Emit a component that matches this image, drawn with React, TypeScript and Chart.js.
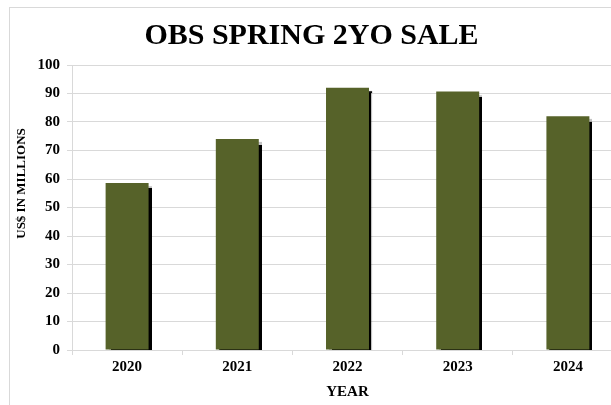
import React, { useEffect, useRef } from "react";
import { Chart, registerables } from "chart.js";

Chart.register(...registerables);

const years = ["2020", "2021", "2022", "2023", "2024"];
const salesMillions = [58.6, 74.0, 92.0, 90.7, 82.0];
const yTicks = [0, 10, 20, 30, 40, 50, 60, 70, 80, 90, 100];
const chartTitle = "OBS SPRING 2YO SALE";
const xTitle = "YEAR";
const yTitle = "US$ IN MILLIONS";

const FONT = "'Liberation Serif', 'Times New Roman', serif";
const GRID = "#d9d9d9";
const BAR = "#566229";

const shadowPlugin = {
  id: "barShadow",
  beforeDatasetsDraw(chart: any) {
    const ctx = chart.ctx;
    ctx.save();
    ctx.shadowColor = "rgba(0,0,0,1)";
    ctx.shadowOffsetX = 3;
    ctx.shadowOffsetY = 3;
    ctx.shadowBlur = 0.8;
  },
  afterDatasetsDraw(chart: any) {
    chart.ctx.restore();
  },
};

const yTitlePlugin = {
  id: "yTitleDraw",
  afterDraw(chart: any) {
    const ctx = chart.ctx;
    const area = chart.chartArea;
    ctx.save();
    ctx.translate(22, (area.top + area.bottom) / 2 - 24);
    ctx.rotate(-Math.PI / 2);
    ctx.textAlign = "center";
    ctx.textBaseline = "middle";
    ctx.fillStyle = "#000";
    ctx.font = `bold 13px ${FONT}`;
    ctx.fillText(yTitle, 0, 0);
    ctx.restore();
  },
};

export default function App() {
  const ref = useRef<HTMLCanvasElement>(null);

  useEffect(() => {
    if (!ref.current) return;
    const chart = new Chart(ref.current, {
      type: "bar",
      data: {
        labels: years,
        datasets: [
          {
            data: salesMillions,
            backgroundColor: BAR,
            borderWidth: 0,
            barPercentage: 0.39,
            categoryPercentage: 1,
          },
        ],
      },
      plugins: [shadowPlugin, yTitlePlugin],
      options: {
        responsive: false,
        animation: false,
        layout: { padding: { left: 0, right: 17, top: 0, bottom: 0 } },
        plugins: {
          legend: { display: false },
          tooltip: { enabled: false },
          title: {
            display: true,
            text: chartTitle,
            color: "#000",
            font: { family: FONT, size: 30, weight: "bold" },
            padding: { top: 18, bottom: 11 },
          },
        },
        scales: {
          x: {
            grid: {
              display: true,
              drawOnChartArea: false,
              drawTicks: true,
              tickLength: 5,
              color: GRID,
              offset: true,
            },
            border: { display: true, color: GRID },
            ticks: {
              color: "#000",
              font: { family: FONT, size: 15, weight: "bold" },
              padding: 3,
              maxRotation: 0,
            },
            title: {
              display: true,
              text: xTitle,
              color: "#000",
              font: { family: FONT, size: 15, weight: "bold" },
              padding: { top: 7, bottom: 4 },
            },
            afterFit(scale: any) {
              scale.height = 55;
            },
          },
          y: {
            min: 0,
            max: 100,
            afterBuildTicks(scale: any) {
              scale.ticks = yTicks.map((v) => ({ value: v }));
            },
            grid: {
              color: GRID,
              tickLength: 5,
              drawTicks: true,
            },
            border: { display: true, color: GRID },
            ticks: {
              color: "#000",
              font: { family: FONT, size: 15, weight: "bold" },
              padding: 7,
            },
            title: { display: false },
            afterFit(scale: any) {
              scale.width = 72;
            },
          },
        },
      },
    });
    return () => chart.destroy();
  }, []);

  return (
    <div
      style={{
        position: "fixed",
        left: 0,
        top: 0,
        width: 611,
        height: 405,
        overflow: "hidden",
        background: "#fff",
      }}
    >
      <div
        style={{
          position: "absolute",
          left: 9,
          top: 7,
          width: 700,
          height: 500,
          border: "1px solid #d9d9d9",
        }}
      />
      <canvas
        ref={ref}
        width={640}
        height={405}
        style={{ position: "absolute", left: 0, top: 0, width: 640, height: 405 }}
      />
    </div>
  );
}
